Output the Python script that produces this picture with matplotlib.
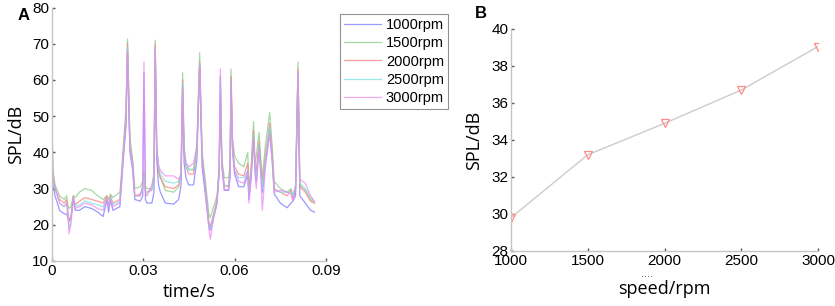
import numpy as np
import matplotlib
matplotlib.use("Agg")
from matplotlib import pyplot as plt

# panel A: SPL over time for each speed
t = [0.0000, 0.0003, 0.0010, 0.0025, 0.0040, 0.0048, 0.0052, 0.0056, 0.0062, 0.0070,
     0.0076, 0.0090, 0.0108, 0.0130, 0.0150, 0.0168, 0.0180, 0.0186, 0.0192, 0.0200,
     0.0223, 0.0229, 0.0236, 0.0243, 0.0248, 0.0256, 0.0265, 0.0272, 0.0290, 0.0298,
     0.0302, 0.0307, 0.0312, 0.0328, 0.0335, 0.0339, 0.0344, 0.0350, 0.0356, 0.0372,
     0.0400, 0.0416, 0.0424, 0.0429, 0.0434, 0.0440, 0.0449, 0.0465, 0.0476, 0.0485,
     0.0493, 0.0504, 0.0515, 0.0520, 0.0531, 0.0542, 0.0549, 0.0553, 0.0558, 0.0566,
     0.0580, 0.0585, 0.0588, 0.0593, 0.0600, 0.0613, 0.0630, 0.0643, 0.0647, 0.0654,
     0.0662, 0.0667, 0.0671, 0.0680, 0.0686, 0.0691, 0.0701, 0.0715, 0.0723, 0.0730,
     0.0750, 0.0772, 0.0785, 0.0791, 0.0800, 0.0808, 0.0814, 0.0832, 0.0849, 0.0862]

spl_1000 = [35, 31, 28, 24, 23, 23, 22, 21, 22, 27,
            24, 24, 25, 24.5, 23.5, 22.3, 27, 23.5, 27, 24,
            25, 32, 40, 47, 68, 40, 35, 27, 26.5, 28,
            62, 27, 26, 26, 29, 68, 38, 31, 29, 26,
            25.7, 27, 31, 57, 37, 33, 31, 31, 38, 64,
            36, 28, 20, 18.5, 22, 26, 34, 61, 36, 29.5,
            29.5, 33, 59, 40, 34, 30.5, 30.5, 34, 27, 33,
            44, 35, 32, 42, 35, 29, 37, 46, 38, 28.5,
            26, 24.7, 26, 26.5, 28, 61, 28, 26, 24, 23.5]

spl_1500 = [48, 35, 31, 28, 27, 28, 25.5, 24.5, 25, 28,
            27.5, 29, 30, 29.5, 28, 27, 28, 27, 28.5, 27.5,
            29, 35, 44, 52, 71.3, 44, 38, 30, 30.5, 32,
            35, 30.5, 30, 30, 34, 71, 42, 35, 33, 29.5,
            29, 30.5, 35, 62, 42, 37, 35.5, 35, 42, 67.5,
            40, 32, 23, 22, 25, 28, 36, 50, 38, 33,
            33, 37, 63, 44, 39, 37, 36, 40, 30, 36,
            48.5, 37, 39, 45.5, 38, 33, 42, 51, 42, 32,
            30, 29, 30, 28, 31, 65, 31, 29.5, 27, 26]

spl_2000 = [46, 34, 30, 27, 26, 27, 24, 21, 22, 28,
            25.5, 26.5, 27.5, 27, 26.5, 26, 28, 25.5, 28, 26,
            27, 34, 42, 50, 70, 42, 37, 28, 28.5, 30,
            34, 29, 29, 29.5, 33, 70, 41, 35, 33, 30.5,
            30, 31, 34, 60, 40, 36, 34, 34, 41, 65,
            39, 30, 21, 19.5, 23, 27, 35, 55, 37, 31,
            30.5, 35, 61, 42, 36, 34, 33.5, 37, 29, 35,
            46, 36, 35, 43, 36, 32, 39, 48, 40, 30,
            29, 28, 29.5, 27, 30, 63, 30.5, 29, 26.5, 26]

spl_2500 = [44, 33, 30, 26, 25, 26, 23, 19, 21, 27.5,
            25, 25.5, 26.6, 26, 25.5, 25, 27.5, 25, 27.5, 25.5,
            26.5, 33, 41, 49, 69, 41, 36, 28, 28, 30,
            34, 29, 29, 30, 33, 69, 40, 36, 34, 32,
            31.5, 32, 34, 59, 40, 36.5, 35, 35.5, 41, 64.5,
            39, 30, 20, 19, 22.5, 26.5, 35, 60, 37, 30.5,
            31, 35, 60, 41, 35, 33, 33, 35, 28, 34,
            45, 35, 33, 42, 35, 30, 38, 47, 39, 29.5,
            29, 29, 29, 28, 30, 62, 31.5, 30, 27.5, 26.5]

spl_3000 = [40, 33, 30, 26, 25, 26, 23, 17.5, 20, 27.5,
            24.5, 25, 26, 25.5, 24.5, 24, 27.5, 24.5, 27, 25,
            26, 33, 41, 48, 68, 41, 36, 28, 28, 31,
            65, 29, 28, 31, 34, 69, 41, 36.5, 35, 33.5,
            33.5, 32.5, 34, 58, 40, 37, 36, 37, 42, 64,
            39, 30, 19, 16, 22, 26, 36, 63, 37, 29.5,
            29.8, 34, 60, 41, 35, 32, 31.5, 35, 26, 33,
            44, 34, 30, 41, 33, 24, 36, 45, 38, 29,
            29.5, 29, 28.5, 26.5, 30, 62, 32.5, 31.5, 28, 26.5]

speed_labels = ["1000rpm", "1500rpm", "2000rpm", "2500rpm", "3000rpm"]
line_colors = ["#7878ff", "#88cc88", "#ff7c7c", "#78e4e4", "#f088f0"]

# panel B: mean SPL against speed
speed = [1000, 1500, 2000, 2500, 3000]
spl_mean = [29.8, 33.2, 34.9, 36.7, 39.05]

tick_font = "Liberation Sans"
label_font = "Open Sans"
spine_col = "#c4c4c4"


def style_axes(ax):
    for side in ["top", "right"]:
        ax.spines[side].set_visible(False)
    for side in ["left", "bottom"]:
        ax.spines[side].set_color(spine_col)
        ax.spines[side].set_linewidth(1.0)
    ax.tick_params(direction="in", length=2, width=1, color="#555555",
                   labelsize=11, pad=2)
    for lab in ax.get_xticklabels() + ax.get_yticklabels():
        lab.set_fontfamily(tick_font)


fig = plt.figure(figsize=(8.35, 3.06), dpi=100)

# ---- panel A
ax1 = fig.add_axes([52 / 835, 1 - 261 / 306, 274 / 835, 253.5 / 306])
series = [spl_1000, spl_1500, spl_2000, spl_2500, spl_3000]
for vals, lab, col in zip(series, speed_labels, line_colors):
    ax1.plot(t, vals, color=col, lw=0.9, alpha=0.75, label=lab)
ax1.set_xlim(0, 0.09)
ax1.set_ylim(10, 80)
ax1.set_xticks([0, 0.03, 0.06, 0.09])
ax1.set_xticklabels(["0", "0.03", "0.06", "0.09"])
ax1.set_yticks(np.arange(10, 81, 10))
style_axes(ax1)
ax1.set_xlabel("time/s", fontsize=13, family=label_font, labelpad=4)
ax1.set_ylabel("SPL/dB", fontsize=13, family=label_font, labelpad=5)
leg = ax1.legend(loc="upper left", bbox_to_anchor=(340 / 835, 1 - 14 / 306),
                 bbox_transform=fig.transFigure, frameon=True, fancybox=False,
                 prop={"family": tick_font, "size": 10.5}, handlelength=2.5,
                 handletextpad=0.35, labelspacing=0.28, borderpad=0.3,
                 borderaxespad=0)
leg.get_frame().set_edgecolor("#777777")
leg.get_frame().set_linewidth(0.8)
fig.text(18 / 835, 1 - 16 / 306, "A", fontsize=12, fontweight="bold",
         family=tick_font, ha="left", va="center")

# ---- panel B
ax2 = fig.add_axes([511 / 835, 1 - 251 / 306, 307 / 835, 222 / 306])
ax2.plot(speed, spl_mean, color="#cccccc", lw=1.0, marker="v", ms=6,
         markerfacecolor="none", markeredgecolor="#ff8a8a", markeredgewidth=0.9)
ax2.set_xlim(1000, 3000)
ax2.set_ylim(28, 40)
ax2.set_xticks(speed)
ax2.set_yticks(np.arange(28, 41, 2))
style_axes(ax2)
ax2.set_xlabel("speed/rpm", fontsize=13, family=label_font, labelpad=9)
ax2.set_ylabel("SPL/dB", fontsize=13, family=label_font, labelpad=6)
fig.text(475 / 835, 1 - 14 / 306, "B", fontsize=12, fontweight="bold",
         family=tick_font, ha="left", va="center")
fig.text(641 / 835, 1 - 274 / 306, "....", fontsize=8, color="#555555",
         family=tick_font, ha="left", va="center")

fig.savefig("out.png", dpi=100)
